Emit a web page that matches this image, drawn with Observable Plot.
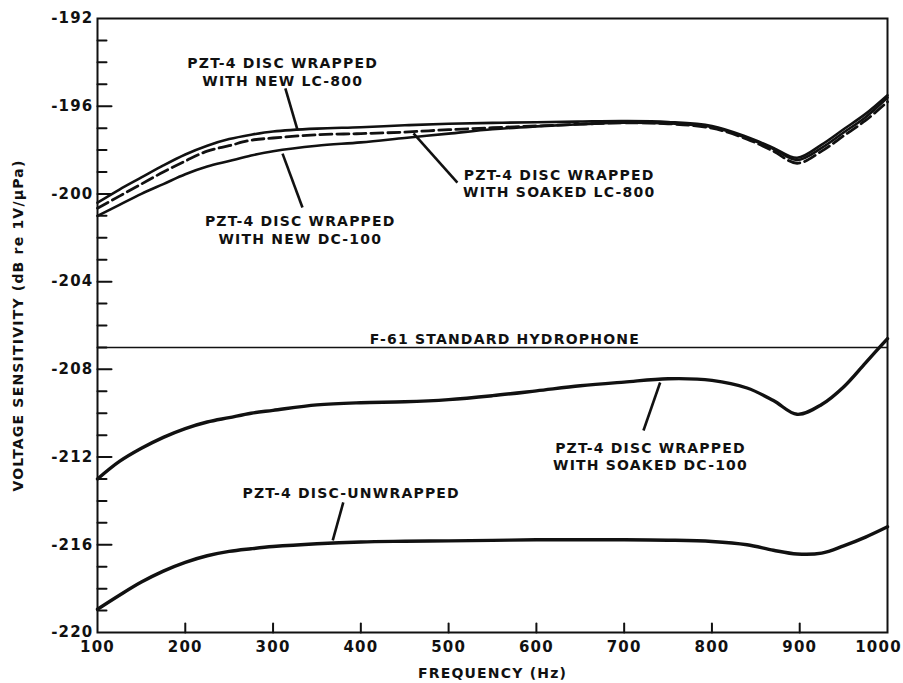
<!DOCTYPE html>
<html>
<head>
<meta charset="utf-8">
<script src="https://cdn.jsdelivr.net/npm/d3@7"></script>
<script src="https://cdn.jsdelivr.net/npm/@observablehq/plot@0.6"></script>
<style>
  html, body { margin: 0; padding: 0; background: #fff; }
  #chart { width: 903px; height: 683px; }
</style>
</head>
<body>
<div id="chart"></div>
<script>
// Frequencies (Hz)
const freq = [100,125,150,175,200,225,250,275,300,350,400,450,500,550,600,650,700,750,800,840,870,897,925,950,975,1000];

// PZT-4 disc wrapped with new LC-800 (solid, top)
const newLC800 = [-200.4,-199.8,-199.25,-198.7,-198.2,-197.8,-197.5,-197.3,-197.15,-197.02,-196.96,-196.87,-196.8,-196.76,-196.73,-196.7,-196.68,-196.72,-196.9,-197.4,-197.9,-198.35,-197.75,-197.05,-196.35,-195.5];
// PZT-4 disc wrapped with soaked LC-800 (dashed)
const soakedLC800 = [-200.65,-200.1,-199.55,-199.0,-198.5,-198.05,-197.8,-197.55,-197.45,-197.3,-197.25,-197.18,-197.07,-196.98,-196.9,-196.82,-196.76,-196.8,-197.0,-197.5,-198.05,-198.6,-198.05,-197.35,-196.65,-195.8];
// PZT-4 disc wrapped with new DC-100 (solid, lower of top group)
const newDC100 = [-201.0,-200.5,-200.0,-199.55,-199.1,-198.75,-198.5,-198.25,-198.05,-197.8,-197.65,-197.45,-197.25,-197.05,-196.92,-196.82,-196.75,-196.78,-196.95,-197.45,-197.95,-198.45,-197.9,-197.2,-196.5,-195.6];
// PZT-4 disc wrapped with soaked DC-100
const soakedDC100 = [-213.0,-212.2,-211.6,-211.1,-210.7,-210.4,-210.2,-210.0,-209.87,-209.62,-209.52,-209.48,-209.38,-209.2,-208.98,-208.75,-208.58,-208.43,-208.5,-208.85,-209.42,-210.05,-209.6,-208.8,-207.7,-206.6];
// PZT-4 disc unwrapped
const unwrapped = [-218.94,-218.3,-217.7,-217.2,-216.8,-216.5,-216.3,-216.18,-216.08,-215.95,-215.87,-215.84,-215.82,-215.8,-215.77,-215.77,-215.77,-215.79,-215.85,-216.0,-216.25,-216.42,-216.38,-216.05,-215.65,-215.18];

// F-61 standard hydrophone reference level
const f61Level = -207;

// Axis ticks
const xTicks = [100,200,300,400,500,600,700,800,900,1000];
const xTickLabels = ["100","200","300","400","500","600","700","800","900","1000"];
const yMajor = [-192,-196,-200,-204,-208,-212,-216,-220];
const yTickLabels = ["-192","-196","-200","-204","-208","-212","-216","-220"];
const yMinor = [-193,-194,-195,-197,-198,-199,-201,-202,-203,-205,-206,-207,-209,-210,-211,-213,-214,-215,-217,-218,-219];

// Annotations (text, anchor point in data units)
const annoText = [
  "PZT-4 DISC WRAPPED\nWITH NEW LC-800",
  "PZT-4 DISC WRAPPED\nWITH NEW DC-100",
  "PZT-4 DISC WRAPPED\nWITH SOAKED LC-800",
  "F-61 STANDARD HYDROPHONE",
  "PZT-4 DISC WRAPPED\nWITH SOAKED DC-100",
  "PZT-4 DISC-UNWRAPPED"
];
const annoF  = [311, 331, 626, 564, 730, 389];
const annoDb = [-194.42, -201.62, -199.5, -206.59, -211.95, -213.6];
// Leader lines: from (f1,db1) to (f2,db2)
const leadF1  = [314, 333.5, 510, 722, 380];
const leadDb1 = [-195.19, -200.62, -199.48, -210.79, -214.07];
const leadF2  = [328, 310.8, 460, 741, 368];
const leadDb2 = [-197.1, -198.16, -197.24, -208.6, -215.8];

const toRows = (vals) => freq.map((f, i) => ({f, v: vals[i]}));
const annos = annoText.map((t, i) => ({t, f: annoF[i], v: annoDb[i]}));
const leaders = leadF1.map((f, i) => ({f1: f, v1: leadDb1[i], f2: leadF2[i], v2: leadDb2[i]}));

const tickShape = { draw(context, l) { context.moveTo(0, 0); context.lineTo(0, -l); } };
const FONT = "'DejaVu Sans', 'Liberation Sans', sans-serif";
const INK = "#111";

const plot = Plot.plot({
  width: 903,
  height: 683,
  marginLeft: 97,
  marginRight: 16,
  marginTop: 18,
  marginBottom: 51,
  style: { fontFamily: FONT, fontWeight: "bold", fontSize: "14px", color: INK, background: "#fff", letterSpacing: "1.2px", overflow: "visible" },
  x: { domain: [100, 1000], label: null },
  y: { domain: [-220, -192], label: null },
  marks: [
    Plot.frame({ stroke: INK, strokeWidth: 2 }),
    Plot.axisX(xTicks.slice(0, -1), { tickSize: 0, tickPadding: 9, fontSize: 15, fontWeight: "bold", label: null, tickFormat: d => xTickLabels[xTicks.indexOf(d)] }),
    Plot.axisX(xTicks.slice(-1), { tickSize: 0, tickPadding: 9, dx: -9, fontSize: 15, fontWeight: "bold", label: null, tickFormat: d => xTickLabels[xTicks.indexOf(d)] }),
    Plot.axisY(yMajor, { tickSize: 0, tickPadding: 4, fontSize: 15, fontWeight: "bold", label: null, tickFormat: d => yTickLabels[yMajor.indexOf(d)] }),
    // inward ticks
    Plot.vector(yMajor.filter(v => v > -220 && v < -192), { x: () => 100, y: d => d, length: 14, rotate: 90, anchor: "start", shape: tickShape, stroke: INK, strokeWidth: 2 }),
    Plot.vector(yMinor, { x: () => 100, y: d => d, length: 9, rotate: 90, anchor: "start", shape: tickShape, stroke: INK, strokeWidth: 2 }),
    Plot.vector(xTicks.filter(v => v > 100 && v < 1000), { x: d => d, y: () => -220, length: 9, rotate: 0, anchor: "start", shape: tickShape, stroke: INK, strokeWidth: 2 }),
    // F-61 reference line
    Plot.ruleY([f61Level], { stroke: INK, strokeWidth: 1.6 }),
    // curves
    Plot.line(toRows(newLC800), { x: "f", y: "v", stroke: INK, strokeWidth: 2.6, curve: "catmull-rom" }),
    Plot.line(toRows(newDC100), { x: "f", y: "v", stroke: INK, strokeWidth: 2.6, curve: "catmull-rom" }),
    Plot.line(toRows(soakedLC800), { x: "f", y: "v", stroke: INK, strokeWidth: 2.8, strokeDasharray: "12,5", curve: "catmull-rom" }),
    Plot.line(toRows(soakedDC100), { x: "f", y: "v", stroke: INK, strokeWidth: 3.4, curve: "catmull-rom" }),
    Plot.line(toRows(unwrapped), { x: "f", y: "v", stroke: INK, strokeWidth: 3.4, curve: "catmull-rom" }),
    // leaders
    Plot.link(leaders, { x1: "f1", y1: "v1", x2: "f2", y2: "v2", stroke: INK, strokeWidth: 2.6 }),
    // annotation text
    Plot.text(annos, { x: "f", y: "v", text: "t", fontSize: 14, fontWeight: "bold", lineHeight: 1.25, fill: INK, textAnchor: "middle" }),
    // axis titles
    Plot.text(["FREQUENCY (Hz)"], { frameAnchor: "bottom", dy: 41, lineAnchor: "middle", fontSize: 14, fontWeight: "bold", fill: INK }),
    Plot.text(["VOLTAGE SENSITIVITY (dB re 1V/\u03bcPa)"], { frameAnchor: "left", dx: -79, rotate: -90, textAnchor: "middle", lineAnchor: "middle", fontSize: 14, fontWeight: "bold", fill: INK })
  ]
});
document.getElementById("chart").appendChild(plot);
</script>
</body>
</html>
